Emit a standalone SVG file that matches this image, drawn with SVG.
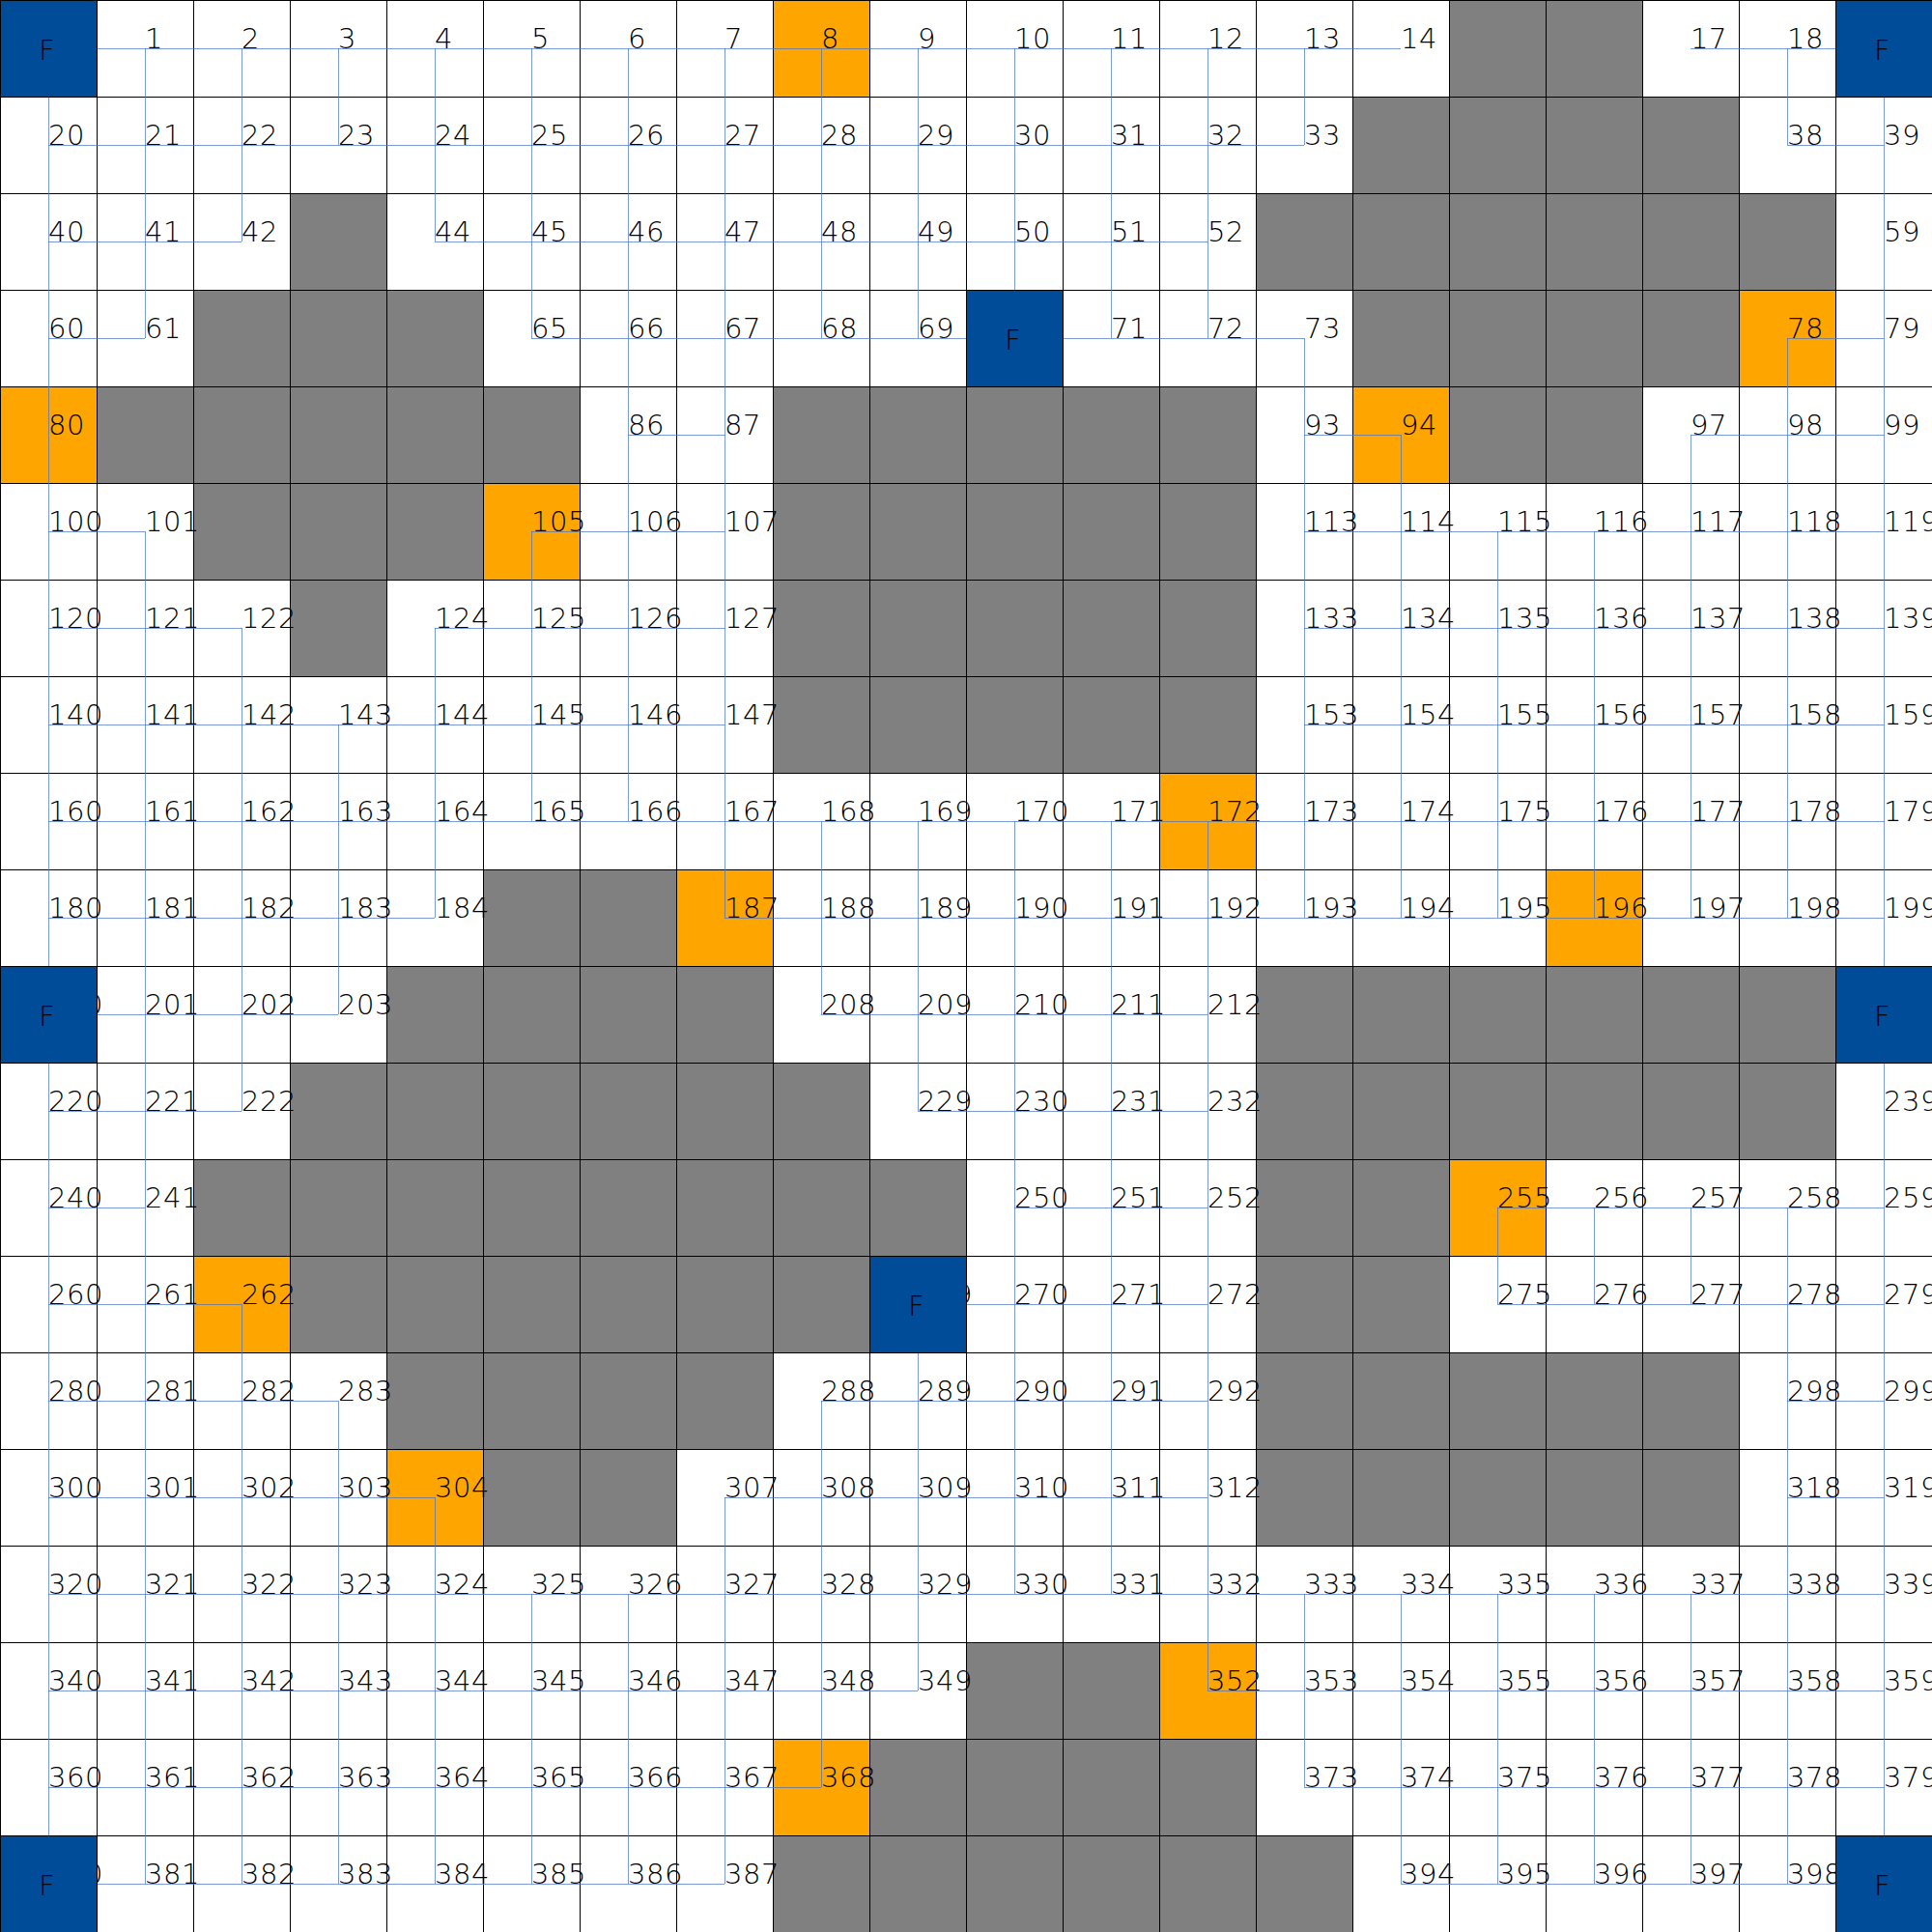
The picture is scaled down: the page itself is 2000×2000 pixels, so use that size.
<svg xmlns="http://www.w3.org/2000/svg" xmlns:xlink="http://www.w3.org/1999/xlink" width="2000" height="2000" viewBox="0 0 2000 2000">
<style>
.w{fill:#ffffff}.g{fill:#808080}.o{fill:#ffa500}.f{fill:#004c99}
use{stroke:#000;stroke-width:1;shape-rendering:crispEdges}
text{font-family:"DejaVu Sans ExtraLight","DejaVu Sans","Liberation Sans",sans-serif;font-weight:200;font-size:29px;fill:#000;letter-spacing:0.5px}
.e line{stroke:#4472c4;stroke-opacity:0.7;stroke-width:1;shape-rendering:crispEdges}
</style>
<defs><rect id="c" width="100" height="100"/></defs>
<rect width="2000" height="2000" fill="#fff"/>
<g id="nodes">
<g id="n18" transform="translate(1800 0)"><use href="#c" class="w"/><text x="50" y="50">18</text></g>
<g id="n17" transform="translate(1700 0)"><use href="#c" class="w"/><text x="50" y="50">17</text></g>
<g id="n16" transform="translate(1600 0)"><use href="#c" class="g"/></g>
<g id="n15" transform="translate(1500 0)"><use href="#c" class="g"/></g>
<g id="n14" transform="translate(1400 0)"><use href="#c" class="w"/><text x="50" y="50">14</text></g>
<g id="n13" transform="translate(1300 0)"><use href="#c" class="w"/><text x="50" y="50">13</text></g>
<g id="n12" transform="translate(1200 0)"><use href="#c" class="w"/><text x="50" y="50">12</text></g>
<g id="n11" transform="translate(1100 0)"><use href="#c" class="w"/><text x="50" y="50">11</text></g>
<g id="n10" transform="translate(1000 0)"><use href="#c" class="w"/><text x="50" y="50">10</text></g>
<g id="n9" transform="translate(900 0)"><use href="#c" class="w"/><text x="50" y="50">9</text></g>
<g id="n8" transform="translate(800 0)"><use href="#c" class="o"/><text x="50" y="50">8</text></g>
<g id="n7" transform="translate(700 0)"><use href="#c" class="w"/><text x="50" y="50">7</text></g>
<g id="n6" transform="translate(600 0)"><use href="#c" class="w"/><text x="50" y="50">6</text></g>
<g id="n5" transform="translate(500 0)"><use href="#c" class="w"/><text x="50" y="50">5</text></g>
<g id="n4" transform="translate(400 0)"><use href="#c" class="w"/><text x="50" y="50">4</text></g>
<g id="n3" transform="translate(300 0)"><use href="#c" class="w"/><text x="50" y="50">3</text></g>
<g id="n2" transform="translate(200 0)"><use href="#c" class="w"/><text x="50" y="50">2</text></g>
<g id="n1" transform="translate(100 0)"><use href="#c" class="w"/><text x="50" y="50">1</text></g>

<g id="n39" transform="translate(1900 100)"><use href="#c" class="w"/><text x="50" y="50">39</text></g>
<g id="n38" transform="translate(1800 100)"><use href="#c" class="w"/><text x="50" y="50">38</text></g>
<g id="n37" transform="translate(1700 100)"><use href="#c" class="g"/></g>
<g id="n36" transform="translate(1600 100)"><use href="#c" class="g"/></g>
<g id="n35" transform="translate(1500 100)"><use href="#c" class="g"/></g>
<g id="n34" transform="translate(1400 100)"><use href="#c" class="g"/></g>
<g id="n33" transform="translate(1300 100)"><use href="#c" class="w"/><text x="50" y="50">33</text></g>
<g id="n32" transform="translate(1200 100)"><use href="#c" class="w"/><text x="50" y="50">32</text></g>
<g id="n31" transform="translate(1100 100)"><use href="#c" class="w"/><text x="50" y="50">31</text></g>
<g id="n30" transform="translate(1000 100)"><use href="#c" class="w"/><text x="50" y="50">30</text></g>
<g id="n29" transform="translate(900 100)"><use href="#c" class="w"/><text x="50" y="50">29</text></g>
<g id="n28" transform="translate(800 100)"><use href="#c" class="w"/><text x="50" y="50">28</text></g>
<g id="n27" transform="translate(700 100)"><use href="#c" class="w"/><text x="50" y="50">27</text></g>
<g id="n26" transform="translate(600 100)"><use href="#c" class="w"/><text x="50" y="50">26</text></g>
<g id="n25" transform="translate(500 100)"><use href="#c" class="w"/><text x="50" y="50">25</text></g>
<g id="n24" transform="translate(400 100)"><use href="#c" class="w"/><text x="50" y="50">24</text></g>
<g id="n23" transform="translate(300 100)"><use href="#c" class="w"/><text x="50" y="50">23</text></g>
<g id="n22" transform="translate(200 100)"><use href="#c" class="w"/><text x="50" y="50">22</text></g>
<g id="n21" transform="translate(100 100)"><use href="#c" class="w"/><text x="50" y="50">21</text></g>
<g id="n20" transform="translate(0 100)"><use href="#c" class="w"/><text x="50" y="50">20</text></g>

<g id="n59" transform="translate(1900 200)"><use href="#c" class="w"/><text x="50" y="50">59</text></g>
<g id="n58" transform="translate(1800 200)"><use href="#c" class="g"/></g>
<g id="n57" transform="translate(1700 200)"><use href="#c" class="g"/></g>
<g id="n56" transform="translate(1600 200)"><use href="#c" class="g"/></g>
<g id="n55" transform="translate(1500 200)"><use href="#c" class="g"/></g>
<g id="n54" transform="translate(1400 200)"><use href="#c" class="g"/></g>
<g id="n53" transform="translate(1300 200)"><use href="#c" class="g"/></g>
<g id="n52" transform="translate(1200 200)"><use href="#c" class="w"/><text x="50" y="50">52</text></g>
<g id="n51" transform="translate(1100 200)"><use href="#c" class="w"/><text x="50" y="50">51</text></g>
<g id="n50" transform="translate(1000 200)"><use href="#c" class="w"/><text x="50" y="50">50</text></g>
<g id="n49" transform="translate(900 200)"><use href="#c" class="w"/><text x="50" y="50">49</text></g>
<g id="n48" transform="translate(800 200)"><use href="#c" class="w"/><text x="50" y="50">48</text></g>
<g id="n47" transform="translate(700 200)"><use href="#c" class="w"/><text x="50" y="50">47</text></g>
<g id="n46" transform="translate(600 200)"><use href="#c" class="w"/><text x="50" y="50">46</text></g>
<g id="n45" transform="translate(500 200)"><use href="#c" class="w"/><text x="50" y="50">45</text></g>
<g id="n44" transform="translate(400 200)"><use href="#c" class="w"/><text x="50" y="50">44</text></g>
<g id="n43" transform="translate(300 200)"><use href="#c" class="g"/></g>
<g id="n42" transform="translate(200 200)"><use href="#c" class="w"/><text x="50" y="50">42</text></g>
<g id="n41" transform="translate(100 200)"><use href="#c" class="w"/><text x="50" y="50">41</text></g>
<g id="n40" transform="translate(0 200)"><use href="#c" class="w"/><text x="50" y="50">40</text></g>

<g id="n79" transform="translate(1900 300)"><use href="#c" class="w"/><text x="50" y="50">79</text></g>
<g id="n78" transform="translate(1800 300)"><use href="#c" class="o"/><text x="50" y="50">78</text></g>
<g id="n77" transform="translate(1700 300)"><use href="#c" class="g"/></g>
<g id="n76" transform="translate(1600 300)"><use href="#c" class="g"/></g>
<g id="n75" transform="translate(1500 300)"><use href="#c" class="g"/></g>
<g id="n74" transform="translate(1400 300)"><use href="#c" class="g"/></g>
<g id="n73" transform="translate(1300 300)"><use href="#c" class="w"/><text x="50" y="50">73</text></g>
<g id="n72" transform="translate(1200 300)"><use href="#c" class="w"/><text x="50" y="50">72</text></g>
<g id="n71" transform="translate(1100 300)"><use href="#c" class="w"/><text x="50" y="50">71</text></g>
<g id="n69" transform="translate(900 300)"><use href="#c" class="w"/><text x="50" y="50">69</text></g>
<g id="n68" transform="translate(800 300)"><use href="#c" class="w"/><text x="50" y="50">68</text></g>
<g id="n67" transform="translate(700 300)"><use href="#c" class="w"/><text x="50" y="50">67</text></g>
<g id="n66" transform="translate(600 300)"><use href="#c" class="w"/><text x="50" y="50">66</text></g>
<g id="n65" transform="translate(500 300)"><use href="#c" class="w"/><text x="50" y="50">65</text></g>
<g id="n64" transform="translate(400 300)"><use href="#c" class="g"/></g>
<g id="n63" transform="translate(300 300)"><use href="#c" class="g"/></g>
<g id="n62" transform="translate(200 300)"><use href="#c" class="g"/></g>
<g id="n61" transform="translate(100 300)"><use href="#c" class="w"/><text x="50" y="50">61</text></g>
<g id="n60" transform="translate(0 300)"><use href="#c" class="w"/><text x="50" y="50">60</text></g>

<g id="n99" transform="translate(1900 400)"><use href="#c" class="w"/><text x="50" y="50">99</text></g>
<g id="n98" transform="translate(1800 400)"><use href="#c" class="w"/><text x="50" y="50">98</text></g>
<g id="n97" transform="translate(1700 400)"><use href="#c" class="w"/><text x="50" y="50">97</text></g>
<g id="n96" transform="translate(1600 400)"><use href="#c" class="g"/></g>
<g id="n95" transform="translate(1500 400)"><use href="#c" class="g"/></g>
<g id="n94" transform="translate(1400 400)"><use href="#c" class="o"/><text x="50" y="50">94</text></g>
<g id="n93" transform="translate(1300 400)"><use href="#c" class="w"/><text x="50" y="50">93</text></g>
<g id="n92" transform="translate(1200 400)"><use href="#c" class="g"/></g>
<g id="n91" transform="translate(1100 400)"><use href="#c" class="g"/></g>
<g id="n90" transform="translate(1000 400)"><use href="#c" class="g"/></g>
<g id="n89" transform="translate(900 400)"><use href="#c" class="g"/></g>
<g id="n88" transform="translate(800 400)"><use href="#c" class="g"/></g>
<g id="n87" transform="translate(700 400)"><use href="#c" class="w"/><text x="50" y="50">87</text></g>
<g id="n86" transform="translate(600 400)"><use href="#c" class="w"/><text x="50" y="50">86</text></g>
<g id="n85" transform="translate(500 400)"><use href="#c" class="g"/></g>
<g id="n84" transform="translate(400 400)"><use href="#c" class="g"/></g>
<g id="n83" transform="translate(300 400)"><use href="#c" class="g"/></g>
<g id="n82" transform="translate(200 400)"><use href="#c" class="g"/></g>
<g id="n81" transform="translate(100 400)"><use href="#c" class="g"/></g>
<g id="n80" transform="translate(0 400)"><use href="#c" class="o"/><text x="50" y="50">80</text></g>

<g id="n119" transform="translate(1900 500)"><use href="#c" class="w"/><text x="50" y="50">119</text></g>
<g id="n118" transform="translate(1800 500)"><use href="#c" class="w"/><text x="50" y="50">118</text></g>
<g id="n117" transform="translate(1700 500)"><use href="#c" class="w"/><text x="50" y="50">117</text></g>
<g id="n116" transform="translate(1600 500)"><use href="#c" class="w"/><text x="50" y="50">116</text></g>
<g id="n115" transform="translate(1500 500)"><use href="#c" class="w"/><text x="50" y="50">115</text></g>
<g id="n114" transform="translate(1400 500)"><use href="#c" class="w"/><text x="50" y="50">114</text></g>
<g id="n113" transform="translate(1300 500)"><use href="#c" class="w"/><text x="50" y="50">113</text></g>
<g id="n112" transform="translate(1200 500)"><use href="#c" class="g"/></g>
<g id="n111" transform="translate(1100 500)"><use href="#c" class="g"/></g>
<g id="n110" transform="translate(1000 500)"><use href="#c" class="g"/></g>
<g id="n109" transform="translate(900 500)"><use href="#c" class="g"/></g>
<g id="n108" transform="translate(800 500)"><use href="#c" class="g"/></g>
<g id="n107" transform="translate(700 500)"><use href="#c" class="w"/><text x="50" y="50">107</text></g>
<g id="n106" transform="translate(600 500)"><use href="#c" class="w"/><text x="50" y="50">106</text></g>
<g id="n105" transform="translate(500 500)"><use href="#c" class="o"/><text x="50" y="50">105</text></g>
<g id="n104" transform="translate(400 500)"><use href="#c" class="g"/></g>
<g id="n103" transform="translate(300 500)"><use href="#c" class="g"/></g>
<g id="n102" transform="translate(200 500)"><use href="#c" class="g"/></g>
<g id="n101" transform="translate(100 500)"><use href="#c" class="w"/><text x="50" y="50">101</text></g>
<g id="n100" transform="translate(0 500)"><use href="#c" class="w"/><text x="50" y="50">100</text></g>

<g id="n139" transform="translate(1900 600)"><use href="#c" class="w"/><text x="50" y="50">139</text></g>
<g id="n138" transform="translate(1800 600)"><use href="#c" class="w"/><text x="50" y="50">138</text></g>
<g id="n137" transform="translate(1700 600)"><use href="#c" class="w"/><text x="50" y="50">137</text></g>
<g id="n136" transform="translate(1600 600)"><use href="#c" class="w"/><text x="50" y="50">136</text></g>
<g id="n135" transform="translate(1500 600)"><use href="#c" class="w"/><text x="50" y="50">135</text></g>
<g id="n134" transform="translate(1400 600)"><use href="#c" class="w"/><text x="50" y="50">134</text></g>
<g id="n133" transform="translate(1300 600)"><use href="#c" class="w"/><text x="50" y="50">133</text></g>
<g id="n132" transform="translate(1200 600)"><use href="#c" class="g"/></g>
<g id="n131" transform="translate(1100 600)"><use href="#c" class="g"/></g>
<g id="n130" transform="translate(1000 600)"><use href="#c" class="g"/></g>
<g id="n129" transform="translate(900 600)"><use href="#c" class="g"/></g>
<g id="n128" transform="translate(800 600)"><use href="#c" class="g"/></g>
<g id="n127" transform="translate(700 600)"><use href="#c" class="w"/><text x="50" y="50">127</text></g>
<g id="n126" transform="translate(600 600)"><use href="#c" class="w"/><text x="50" y="50">126</text></g>
<g id="n125" transform="translate(500 600)"><use href="#c" class="w"/><text x="50" y="50">125</text></g>
<g id="n124" transform="translate(400 600)"><use href="#c" class="w"/><text x="50" y="50">124</text></g>
<g id="n123" transform="translate(300 600)"><use href="#c" class="g"/></g>
<g id="n122" transform="translate(200 600)"><use href="#c" class="w"/><text x="50" y="50">122</text></g>
<g id="n121" transform="translate(100 600)"><use href="#c" class="w"/><text x="50" y="50">121</text></g>
<g id="n120" transform="translate(0 600)"><use href="#c" class="w"/><text x="50" y="50">120</text></g>

<g id="n159" transform="translate(1900 700)"><use href="#c" class="w"/><text x="50" y="50">159</text></g>
<g id="n158" transform="translate(1800 700)"><use href="#c" class="w"/><text x="50" y="50">158</text></g>
<g id="n157" transform="translate(1700 700)"><use href="#c" class="w"/><text x="50" y="50">157</text></g>
<g id="n156" transform="translate(1600 700)"><use href="#c" class="w"/><text x="50" y="50">156</text></g>
<g id="n155" transform="translate(1500 700)"><use href="#c" class="w"/><text x="50" y="50">155</text></g>
<g id="n154" transform="translate(1400 700)"><use href="#c" class="w"/><text x="50" y="50">154</text></g>
<g id="n153" transform="translate(1300 700)"><use href="#c" class="w"/><text x="50" y="50">153</text></g>
<g id="n152" transform="translate(1200 700)"><use href="#c" class="g"/></g>
<g id="n151" transform="translate(1100 700)"><use href="#c" class="g"/></g>
<g id="n150" transform="translate(1000 700)"><use href="#c" class="g"/></g>
<g id="n149" transform="translate(900 700)"><use href="#c" class="g"/></g>
<g id="n148" transform="translate(800 700)"><use href="#c" class="g"/></g>
<g id="n147" transform="translate(700 700)"><use href="#c" class="w"/><text x="50" y="50">147</text></g>
<g id="n146" transform="translate(600 700)"><use href="#c" class="w"/><text x="50" y="50">146</text></g>
<g id="n145" transform="translate(500 700)"><use href="#c" class="w"/><text x="50" y="50">145</text></g>
<g id="n144" transform="translate(400 700)"><use href="#c" class="w"/><text x="50" y="50">144</text></g>
<g id="n143" transform="translate(300 700)"><use href="#c" class="w"/><text x="50" y="50">143</text></g>
<g id="n142" transform="translate(200 700)"><use href="#c" class="w"/><text x="50" y="50">142</text></g>
<g id="n141" transform="translate(100 700)"><use href="#c" class="w"/><text x="50" y="50">141</text></g>
<g id="n140" transform="translate(0 700)"><use href="#c" class="w"/><text x="50" y="50">140</text></g>

<g id="n179" transform="translate(1900 800)"><use href="#c" class="w"/><text x="50" y="50">179</text></g>
<g id="n178" transform="translate(1800 800)"><use href="#c" class="w"/><text x="50" y="50">178</text></g>
<g id="n177" transform="translate(1700 800)"><use href="#c" class="w"/><text x="50" y="50">177</text></g>
<g id="n176" transform="translate(1600 800)"><use href="#c" class="w"/><text x="50" y="50">176</text></g>
<g id="n175" transform="translate(1500 800)"><use href="#c" class="w"/><text x="50" y="50">175</text></g>
<g id="n174" transform="translate(1400 800)"><use href="#c" class="w"/><text x="50" y="50">174</text></g>
<g id="n173" transform="translate(1300 800)"><use href="#c" class="w"/><text x="50" y="50">173</text></g>
<g id="n172" transform="translate(1200 800)"><use href="#c" class="o"/><text x="50" y="50">172</text></g>
<g id="n171" transform="translate(1100 800)"><use href="#c" class="w"/><text x="50" y="50">171</text></g>
<g id="n170" transform="translate(1000 800)"><use href="#c" class="w"/><text x="50" y="50">170</text></g>
<g id="n169" transform="translate(900 800)"><use href="#c" class="w"/><text x="50" y="50">169</text></g>
<g id="n168" transform="translate(800 800)"><use href="#c" class="w"/><text x="50" y="50">168</text></g>
<g id="n167" transform="translate(700 800)"><use href="#c" class="w"/><text x="50" y="50">167</text></g>
<g id="n166" transform="translate(600 800)"><use href="#c" class="w"/><text x="50" y="50">166</text></g>
<g id="n165" transform="translate(500 800)"><use href="#c" class="w"/><text x="50" y="50">165</text></g>
<g id="n164" transform="translate(400 800)"><use href="#c" class="w"/><text x="50" y="50">164</text></g>
<g id="n163" transform="translate(300 800)"><use href="#c" class="w"/><text x="50" y="50">163</text></g>
<g id="n162" transform="translate(200 800)"><use href="#c" class="w"/><text x="50" y="50">162</text></g>
<g id="n161" transform="translate(100 800)"><use href="#c" class="w"/><text x="50" y="50">161</text></g>
<g id="n160" transform="translate(0 800)"><use href="#c" class="w"/><text x="50" y="50">160</text></g>

<g id="n199" transform="translate(1900 900)"><use href="#c" class="w"/><text x="50" y="50">199</text></g>
<g id="n198" transform="translate(1800 900)"><use href="#c" class="w"/><text x="50" y="50">198</text></g>
<g id="n197" transform="translate(1700 900)"><use href="#c" class="w"/><text x="50" y="50">197</text></g>
<g id="n196" transform="translate(1600 900)"><use href="#c" class="o"/><text x="50" y="50">196</text></g>
<g id="n195" transform="translate(1500 900)"><use href="#c" class="w"/><text x="50" y="50">195</text></g>
<g id="n194" transform="translate(1400 900)"><use href="#c" class="w"/><text x="50" y="50">194</text></g>
<g id="n193" transform="translate(1300 900)"><use href="#c" class="w"/><text x="50" y="50">193</text></g>
<g id="n192" transform="translate(1200 900)"><use href="#c" class="w"/><text x="50" y="50">192</text></g>
<g id="n191" transform="translate(1100 900)"><use href="#c" class="w"/><text x="50" y="50">191</text></g>
<g id="n190" transform="translate(1000 900)"><use href="#c" class="w"/><text x="50" y="50">190</text></g>
<g id="n189" transform="translate(900 900)"><use href="#c" class="w"/><text x="50" y="50">189</text></g>
<g id="n188" transform="translate(800 900)"><use href="#c" class="w"/><text x="50" y="50">188</text></g>
<g id="n187" transform="translate(700 900)"><use href="#c" class="o"/><text x="50" y="50">187</text></g>
<g id="n186" transform="translate(600 900)"><use href="#c" class="g"/></g>
<g id="n185" transform="translate(500 900)"><use href="#c" class="g"/></g>
<g id="n184" transform="translate(400 900)"><use href="#c" class="w"/><text x="50" y="50">184</text></g>
<g id="n183" transform="translate(300 900)"><use href="#c" class="w"/><text x="50" y="50">183</text></g>
<g id="n182" transform="translate(200 900)"><use href="#c" class="w"/><text x="50" y="50">182</text></g>
<g id="n181" transform="translate(100 900)"><use href="#c" class="w"/><text x="50" y="50">181</text></g>
<g id="n180" transform="translate(0 900)"><use href="#c" class="w"/><text x="50" y="50">180</text></g>

<g id="n218" transform="translate(1800 1000)"><use href="#c" class="g"/></g>
<g id="n217" transform="translate(1700 1000)"><use href="#c" class="g"/></g>
<g id="n216" transform="translate(1600 1000)"><use href="#c" class="g"/></g>
<g id="n215" transform="translate(1500 1000)"><use href="#c" class="g"/></g>
<g id="n214" transform="translate(1400 1000)"><use href="#c" class="g"/></g>
<g id="n213" transform="translate(1300 1000)"><use href="#c" class="g"/></g>
<g id="n212" transform="translate(1200 1000)"><use href="#c" class="w"/><text x="50" y="50">212</text></g>
<g id="n211" transform="translate(1100 1000)"><use href="#c" class="w"/><text x="50" y="50">211</text></g>
<g id="n210" transform="translate(1000 1000)"><use href="#c" class="w"/><text x="50" y="50">210</text></g>
<g id="n209" transform="translate(900 1000)"><use href="#c" class="w"/><text x="50" y="50">209</text></g>
<g id="n208" transform="translate(800 1000)"><use href="#c" class="w"/><text x="50" y="50">208</text></g>
<g id="n207" transform="translate(700 1000)"><use href="#c" class="g"/></g>
<g id="n206" transform="translate(600 1000)"><use href="#c" class="g"/></g>
<g id="n205" transform="translate(500 1000)"><use href="#c" class="g"/></g>
<g id="n204" transform="translate(400 1000)"><use href="#c" class="g"/></g>
<g id="n203" transform="translate(300 1000)"><use href="#c" class="w"/><text x="50" y="50">203</text></g>
<g id="n202" transform="translate(200 1000)"><use href="#c" class="w"/><text x="50" y="50">202</text></g>
<g id="n201" transform="translate(100 1000)"><use href="#c" class="w"/><text x="50" y="50">201</text></g>

<g id="n239" transform="translate(1900 1100)"><use href="#c" class="w"/><text x="50" y="50">239</text></g>
<g id="n238" transform="translate(1800 1100)"><use href="#c" class="g"/></g>
<g id="n237" transform="translate(1700 1100)"><use href="#c" class="g"/></g>
<g id="n236" transform="translate(1600 1100)"><use href="#c" class="g"/></g>
<g id="n235" transform="translate(1500 1100)"><use href="#c" class="g"/></g>
<g id="n234" transform="translate(1400 1100)"><use href="#c" class="g"/></g>
<g id="n233" transform="translate(1300 1100)"><use href="#c" class="g"/></g>
<g id="n232" transform="translate(1200 1100)"><use href="#c" class="w"/><text x="50" y="50">232</text></g>
<g id="n231" transform="translate(1100 1100)"><use href="#c" class="w"/><text x="50" y="50">231</text></g>
<g id="n230" transform="translate(1000 1100)"><use href="#c" class="w"/><text x="50" y="50">230</text></g>
<g id="n229" transform="translate(900 1100)"><use href="#c" class="w"/><text x="50" y="50">229</text></g>
<g id="n228" transform="translate(800 1100)"><use href="#c" class="g"/></g>
<g id="n227" transform="translate(700 1100)"><use href="#c" class="g"/></g>
<g id="n226" transform="translate(600 1100)"><use href="#c" class="g"/></g>
<g id="n225" transform="translate(500 1100)"><use href="#c" class="g"/></g>
<g id="n224" transform="translate(400 1100)"><use href="#c" class="g"/></g>
<g id="n223" transform="translate(300 1100)"><use href="#c" class="g"/></g>
<g id="n222" transform="translate(200 1100)"><use href="#c" class="w"/><text x="50" y="50">222</text></g>
<g id="n221" transform="translate(100 1100)"><use href="#c" class="w"/><text x="50" y="50">221</text></g>
<g id="n220" transform="translate(0 1100)"><use href="#c" class="w"/><text x="50" y="50">220</text></g>

<g id="n259" transform="translate(1900 1200)"><use href="#c" class="w"/><text x="50" y="50">259</text></g>
<g id="n258" transform="translate(1800 1200)"><use href="#c" class="w"/><text x="50" y="50">258</text></g>
<g id="n257" transform="translate(1700 1200)"><use href="#c" class="w"/><text x="50" y="50">257</text></g>
<g id="n256" transform="translate(1600 1200)"><use href="#c" class="w"/><text x="50" y="50">256</text></g>
<g id="n255" transform="translate(1500 1200)"><use href="#c" class="o"/><text x="50" y="50">255</text></g>
<g id="n254" transform="translate(1400 1200)"><use href="#c" class="g"/></g>
<g id="n253" transform="translate(1300 1200)"><use href="#c" class="g"/></g>
<g id="n252" transform="translate(1200 1200)"><use href="#c" class="w"/><text x="50" y="50">252</text></g>
<g id="n251" transform="translate(1100 1200)"><use href="#c" class="w"/><text x="50" y="50">251</text></g>
<g id="n250" transform="translate(1000 1200)"><use href="#c" class="w"/><text x="50" y="50">250</text></g>
<g id="n249" transform="translate(900 1200)"><use href="#c" class="g"/></g>
<g id="n248" transform="translate(800 1200)"><use href="#c" class="g"/></g>
<g id="n247" transform="translate(700 1200)"><use href="#c" class="g"/></g>
<g id="n246" transform="translate(600 1200)"><use href="#c" class="g"/></g>
<g id="n245" transform="translate(500 1200)"><use href="#c" class="g"/></g>
<g id="n244" transform="translate(400 1200)"><use href="#c" class="g"/></g>
<g id="n243" transform="translate(300 1200)"><use href="#c" class="g"/></g>
<g id="n242" transform="translate(200 1200)"><use href="#c" class="g"/></g>
<g id="n241" transform="translate(100 1200)"><use href="#c" class="w"/><text x="50" y="50">241</text></g>
<g id="n240" transform="translate(0 1200)"><use href="#c" class="w"/><text x="50" y="50">240</text></g>

<g id="n279" transform="translate(1900 1300)"><use href="#c" class="w"/><text x="50" y="50">279</text></g>
<g id="n278" transform="translate(1800 1300)"><use href="#c" class="w"/><text x="50" y="50">278</text></g>
<g id="n277" transform="translate(1700 1300)"><use href="#c" class="w"/><text x="50" y="50">277</text></g>
<g id="n276" transform="translate(1600 1300)"><use href="#c" class="w"/><text x="50" y="50">276</text></g>
<g id="n275" transform="translate(1500 1300)"><use href="#c" class="w"/><text x="50" y="50">275</text></g>
<g id="n274" transform="translate(1400 1300)"><use href="#c" class="g"/></g>
<g id="n273" transform="translate(1300 1300)"><use href="#c" class="g"/></g>
<g id="n272" transform="translate(1200 1300)"><use href="#c" class="w"/><text x="50" y="50">272</text></g>
<g id="n271" transform="translate(1100 1300)"><use href="#c" class="w"/><text x="50" y="50">271</text></g>
<g id="n270" transform="translate(1000 1300)"><use href="#c" class="w"/><text x="50" y="50">270</text></g>
<g id="n268" transform="translate(800 1300)"><use href="#c" class="g"/></g>
<g id="n267" transform="translate(700 1300)"><use href="#c" class="g"/></g>
<g id="n266" transform="translate(600 1300)"><use href="#c" class="g"/></g>
<g id="n265" transform="translate(500 1300)"><use href="#c" class="g"/></g>
<g id="n264" transform="translate(400 1300)"><use href="#c" class="g"/></g>
<g id="n263" transform="translate(300 1300)"><use href="#c" class="g"/></g>
<g id="n262" transform="translate(200 1300)"><use href="#c" class="o"/><text x="50" y="50">262</text></g>
<g id="n261" transform="translate(100 1300)"><use href="#c" class="w"/><text x="50" y="50">261</text></g>
<g id="n260" transform="translate(0 1300)"><use href="#c" class="w"/><text x="50" y="50">260</text></g>

<g id="n299" transform="translate(1900 1400)"><use href="#c" class="w"/><text x="50" y="50">299</text></g>
<g id="n298" transform="translate(1800 1400)"><use href="#c" class="w"/><text x="50" y="50">298</text></g>
<g id="n297" transform="translate(1700 1400)"><use href="#c" class="g"/></g>
<g id="n296" transform="translate(1600 1400)"><use href="#c" class="g"/></g>
<g id="n295" transform="translate(1500 1400)"><use href="#c" class="g"/></g>
<g id="n294" transform="translate(1400 1400)"><use href="#c" class="g"/></g>
<g id="n293" transform="translate(1300 1400)"><use href="#c" class="g"/></g>
<g id="n292" transform="translate(1200 1400)"><use href="#c" class="w"/><text x="50" y="50">292</text></g>
<g id="n291" transform="translate(1100 1400)"><use href="#c" class="w"/><text x="50" y="50">291</text></g>
<g id="n290" transform="translate(1000 1400)"><use href="#c" class="w"/><text x="50" y="50">290</text></g>
<g id="n289" transform="translate(900 1400)"><use href="#c" class="w"/><text x="50" y="50">289</text></g>
<g id="n288" transform="translate(800 1400)"><use href="#c" class="w"/><text x="50" y="50">288</text></g>
<g id="n287" transform="translate(700 1400)"><use href="#c" class="g"/></g>
<g id="n286" transform="translate(600 1400)"><use href="#c" class="g"/></g>
<g id="n285" transform="translate(500 1400)"><use href="#c" class="g"/></g>
<g id="n284" transform="translate(400 1400)"><use href="#c" class="g"/></g>
<g id="n283" transform="translate(300 1400)"><use href="#c" class="w"/><text x="50" y="50">283</text></g>
<g id="n282" transform="translate(200 1400)"><use href="#c" class="w"/><text x="50" y="50">282</text></g>
<g id="n281" transform="translate(100 1400)"><use href="#c" class="w"/><text x="50" y="50">281</text></g>
<g id="n280" transform="translate(0 1400)"><use href="#c" class="w"/><text x="50" y="50">280</text></g>

<g id="n319" transform="translate(1900 1500)"><use href="#c" class="w"/><text x="50" y="50">319</text></g>
<g id="n318" transform="translate(1800 1500)"><use href="#c" class="w"/><text x="50" y="50">318</text></g>
<g id="n317" transform="translate(1700 1500)"><use href="#c" class="g"/></g>
<g id="n316" transform="translate(1600 1500)"><use href="#c" class="g"/></g>
<g id="n315" transform="translate(1500 1500)"><use href="#c" class="g"/></g>
<g id="n314" transform="translate(1400 1500)"><use href="#c" class="g"/></g>
<g id="n313" transform="translate(1300 1500)"><use href="#c" class="g"/></g>
<g id="n312" transform="translate(1200 1500)"><use href="#c" class="w"/><text x="50" y="50">312</text></g>
<g id="n311" transform="translate(1100 1500)"><use href="#c" class="w"/><text x="50" y="50">311</text></g>
<g id="n310" transform="translate(1000 1500)"><use href="#c" class="w"/><text x="50" y="50">310</text></g>
<g id="n309" transform="translate(900 1500)"><use href="#c" class="w"/><text x="50" y="50">309</text></g>
<g id="n308" transform="translate(800 1500)"><use href="#c" class="w"/><text x="50" y="50">308</text></g>
<g id="n307" transform="translate(700 1500)"><use href="#c" class="w"/><text x="50" y="50">307</text></g>
<g id="n306" transform="translate(600 1500)"><use href="#c" class="g"/></g>
<g id="n305" transform="translate(500 1500)"><use href="#c" class="g"/></g>
<g id="n304" transform="translate(400 1500)"><use href="#c" class="o"/><text x="50" y="50">304</text></g>
<g id="n303" transform="translate(300 1500)"><use href="#c" class="w"/><text x="50" y="50">303</text></g>
<g id="n302" transform="translate(200 1500)"><use href="#c" class="w"/><text x="50" y="50">302</text></g>
<g id="n301" transform="translate(100 1500)"><use href="#c" class="w"/><text x="50" y="50">301</text></g>
<g id="n300" transform="translate(0 1500)"><use href="#c" class="w"/><text x="50" y="50">300</text></g>

<g id="n339" transform="translate(1900 1600)"><use href="#c" class="w"/><text x="50" y="50">339</text></g>
<g id="n338" transform="translate(1800 1600)"><use href="#c" class="w"/><text x="50" y="50">338</text></g>
<g id="n337" transform="translate(1700 1600)"><use href="#c" class="w"/><text x="50" y="50">337</text></g>
<g id="n336" transform="translate(1600 1600)"><use href="#c" class="w"/><text x="50" y="50">336</text></g>
<g id="n335" transform="translate(1500 1600)"><use href="#c" class="w"/><text x="50" y="50">335</text></g>
<g id="n334" transform="translate(1400 1600)"><use href="#c" class="w"/><text x="50" y="50">334</text></g>
<g id="n333" transform="translate(1300 1600)"><use href="#c" class="w"/><text x="50" y="50">333</text></g>
<g id="n332" transform="translate(1200 1600)"><use href="#c" class="w"/><text x="50" y="50">332</text></g>
<g id="n331" transform="translate(1100 1600)"><use href="#c" class="w"/><text x="50" y="50">331</text></g>
<g id="n330" transform="translate(1000 1600)"><use href="#c" class="w"/><text x="50" y="50">330</text></g>
<g id="n329" transform="translate(900 1600)"><use href="#c" class="w"/><text x="50" y="50">329</text></g>
<g id="n328" transform="translate(800 1600)"><use href="#c" class="w"/><text x="50" y="50">328</text></g>
<g id="n327" transform="translate(700 1600)"><use href="#c" class="w"/><text x="50" y="50">327</text></g>
<g id="n326" transform="translate(600 1600)"><use href="#c" class="w"/><text x="50" y="50">326</text></g>
<g id="n325" transform="translate(500 1600)"><use href="#c" class="w"/><text x="50" y="50">325</text></g>
<g id="n324" transform="translate(400 1600)"><use href="#c" class="w"/><text x="50" y="50">324</text></g>
<g id="n323" transform="translate(300 1600)"><use href="#c" class="w"/><text x="50" y="50">323</text></g>
<g id="n322" transform="translate(200 1600)"><use href="#c" class="w"/><text x="50" y="50">322</text></g>
<g id="n321" transform="translate(100 1600)"><use href="#c" class="w"/><text x="50" y="50">321</text></g>
<g id="n320" transform="translate(0 1600)"><use href="#c" class="w"/><text x="50" y="50">320</text></g>

<g id="n359" transform="translate(1900 1700)"><use href="#c" class="w"/><text x="50" y="50">359</text></g>
<g id="n358" transform="translate(1800 1700)"><use href="#c" class="w"/><text x="50" y="50">358</text></g>
<g id="n357" transform="translate(1700 1700)"><use href="#c" class="w"/><text x="50" y="50">357</text></g>
<g id="n356" transform="translate(1600 1700)"><use href="#c" class="w"/><text x="50" y="50">356</text></g>
<g id="n355" transform="translate(1500 1700)"><use href="#c" class="w"/><text x="50" y="50">355</text></g>
<g id="n354" transform="translate(1400 1700)"><use href="#c" class="w"/><text x="50" y="50">354</text></g>
<g id="n353" transform="translate(1300 1700)"><use href="#c" class="w"/><text x="50" y="50">353</text></g>
<g id="n352" transform="translate(1200 1700)"><use href="#c" class="o"/><text x="50" y="50">352</text></g>
<g id="n351" transform="translate(1100 1700)"><use href="#c" class="g"/></g>
<g id="n350" transform="translate(1000 1700)"><use href="#c" class="g"/></g>
<g id="n349" transform="translate(900 1700)"><use href="#c" class="w"/><text x="50" y="50">349</text></g>
<g id="n348" transform="translate(800 1700)"><use href="#c" class="w"/><text x="50" y="50">348</text></g>
<g id="n347" transform="translate(700 1700)"><use href="#c" class="w"/><text x="50" y="50">347</text></g>
<g id="n346" transform="translate(600 1700)"><use href="#c" class="w"/><text x="50" y="50">346</text></g>
<g id="n345" transform="translate(500 1700)"><use href="#c" class="w"/><text x="50" y="50">345</text></g>
<g id="n344" transform="translate(400 1700)"><use href="#c" class="w"/><text x="50" y="50">344</text></g>
<g id="n343" transform="translate(300 1700)"><use href="#c" class="w"/><text x="50" y="50">343</text></g>
<g id="n342" transform="translate(200 1700)"><use href="#c" class="w"/><text x="50" y="50">342</text></g>
<g id="n341" transform="translate(100 1700)"><use href="#c" class="w"/><text x="50" y="50">341</text></g>
<g id="n340" transform="translate(0 1700)"><use href="#c" class="w"/><text x="50" y="50">340</text></g>

<g id="n379" transform="translate(1900 1800)"><use href="#c" class="w"/><text x="50" y="50">379</text></g>
<g id="n378" transform="translate(1800 1800)"><use href="#c" class="w"/><text x="50" y="50">378</text></g>
<g id="n377" transform="translate(1700 1800)"><use href="#c" class="w"/><text x="50" y="50">377</text></g>
<g id="n376" transform="translate(1600 1800)"><use href="#c" class="w"/><text x="50" y="50">376</text></g>
<g id="n375" transform="translate(1500 1800)"><use href="#c" class="w"/><text x="50" y="50">375</text></g>
<g id="n374" transform="translate(1400 1800)"><use href="#c" class="w"/><text x="50" y="50">374</text></g>
<g id="n373" transform="translate(1300 1800)"><use href="#c" class="w"/><text x="50" y="50">373</text></g>
<g id="n372" transform="translate(1200 1800)"><use href="#c" class="g"/></g>
<g id="n371" transform="translate(1100 1800)"><use href="#c" class="g"/></g>
<g id="n370" transform="translate(1000 1800)"><use href="#c" class="g"/></g>
<g id="n369" transform="translate(900 1800)"><use href="#c" class="g"/></g>
<g id="n368" transform="translate(800 1800)"><use href="#c" class="o"/><text x="50" y="50">368</text></g>
<g id="n367" transform="translate(700 1800)"><use href="#c" class="w"/><text x="50" y="50">367</text></g>
<g id="n366" transform="translate(600 1800)"><use href="#c" class="w"/><text x="50" y="50">366</text></g>
<g id="n365" transform="translate(500 1800)"><use href="#c" class="w"/><text x="50" y="50">365</text></g>
<g id="n364" transform="translate(400 1800)"><use href="#c" class="w"/><text x="50" y="50">364</text></g>
<g id="n363" transform="translate(300 1800)"><use href="#c" class="w"/><text x="50" y="50">363</text></g>
<g id="n362" transform="translate(200 1800)"><use href="#c" class="w"/><text x="50" y="50">362</text></g>
<g id="n361" transform="translate(100 1800)"><use href="#c" class="w"/><text x="50" y="50">361</text></g>
<g id="n360" transform="translate(0 1800)"><use href="#c" class="w"/><text x="50" y="50">360</text></g>

<g id="n398" transform="translate(1800 1900)"><use href="#c" class="w"/><text x="50" y="50">398</text></g>
<g id="n397" transform="translate(1700 1900)"><use href="#c" class="w"/><text x="50" y="50">397</text></g>
<g id="n396" transform="translate(1600 1900)"><use href="#c" class="w"/><text x="50" y="50">396</text></g>
<g id="n395" transform="translate(1500 1900)"><use href="#c" class="w"/><text x="50" y="50">395</text></g>
<g id="n394" transform="translate(1400 1900)"><use href="#c" class="w"/><text x="50" y="50">394</text></g>
<g id="n393" transform="translate(1300 1900)"><use href="#c" class="g"/></g>
<g id="n392" transform="translate(1200 1900)"><use href="#c" class="g"/></g>
<g id="n391" transform="translate(1100 1900)"><use href="#c" class="g"/></g>
<g id="n390" transform="translate(1000 1900)"><use href="#c" class="g"/></g>
<g id="n389" transform="translate(900 1900)"><use href="#c" class="g"/></g>
<g id="n388" transform="translate(800 1900)"><use href="#c" class="g"/></g>
<g id="n387" transform="translate(700 1900)"><use href="#c" class="w"/><text x="50" y="50">387</text></g>
<g id="n386" transform="translate(600 1900)"><use href="#c" class="w"/><text x="50" y="50">386</text></g>
<g id="n385" transform="translate(500 1900)"><use href="#c" class="w"/><text x="50" y="50">385</text></g>
<g id="n384" transform="translate(400 1900)"><use href="#c" class="w"/><text x="50" y="50">384</text></g>
<g id="n383" transform="translate(300 1900)"><use href="#c" class="w"/><text x="50" y="50">383</text></g>
<g id="n382" transform="translate(200 1900)"><use href="#c" class="w"/><text x="50" y="50">382</text></g>
<g id="n381" transform="translate(100 1900)"><use href="#c" class="w"/><text x="50" y="50">381</text></g>
</g>
<g id="connectors" class="e">
<line x1="50" y1="50" x2="1450" y2="50"/><line x1="1750" y1="50" x2="1950" y2="50"/>
<line x1="50" y1="150" x2="1350" y2="150"/><line x1="1850" y1="150" x2="1950" y2="150"/>
<line x1="50" y1="250" x2="250" y2="250"/><line x1="450" y1="250" x2="1250" y2="250"/>
<line x1="50" y1="350" x2="150" y2="350"/><line x1="550" y1="350" x2="1350" y2="350"/><line x1="1850" y1="350" x2="1950" y2="350"/>
<line x1="650" y1="450" x2="750" y2="450"/><line x1="1350" y1="450" x2="1450" y2="450"/><line x1="1750" y1="450" x2="1950" y2="450"/>
<line x1="50" y1="550" x2="150" y2="550"/><line x1="550" y1="550" x2="750" y2="550"/><line x1="1350" y1="550" x2="1950" y2="550"/>
<line x1="50" y1="650" x2="250" y2="650"/><line x1="450" y1="650" x2="750" y2="650"/><line x1="1350" y1="650" x2="1950" y2="650"/>
<line x1="50" y1="750" x2="750" y2="750"/><line x1="1350" y1="750" x2="1950" y2="750"/>
<line x1="50" y1="850" x2="1950" y2="850"/>
<line x1="50" y1="950" x2="450" y2="950"/><line x1="750" y1="950" x2="1950" y2="950"/>
<line x1="50" y1="1050" x2="350" y2="1050"/><line x1="850" y1="1050" x2="1250" y2="1050"/>
<line x1="50" y1="1150" x2="250" y2="1150"/><line x1="950" y1="1150" x2="1250" y2="1150"/>
<line x1="50" y1="1250" x2="150" y2="1250"/><line x1="1050" y1="1250" x2="1250" y2="1250"/><line x1="1550" y1="1250" x2="1950" y2="1250"/>
<line x1="50" y1="1350" x2="250" y2="1350"/><line x1="950" y1="1350" x2="1250" y2="1350"/><line x1="1550" y1="1350" x2="1950" y2="1350"/>
<line x1="50" y1="1450" x2="350" y2="1450"/><line x1="850" y1="1450" x2="1250" y2="1450"/><line x1="1850" y1="1450" x2="1950" y2="1450"/>
<line x1="50" y1="1550" x2="450" y2="1550"/><line x1="750" y1="1550" x2="1250" y2="1550"/><line x1="1850" y1="1550" x2="1950" y2="1550"/>
<line x1="50" y1="1650" x2="1950" y2="1650"/>
<line x1="50" y1="1750" x2="950" y2="1750"/><line x1="1250" y1="1750" x2="1950" y2="1750"/>
<line x1="50" y1="1850" x2="850" y2="1850"/><line x1="1350" y1="1850" x2="1950" y2="1850"/>
<line x1="50" y1="1950" x2="750" y2="1950"/><line x1="1450" y1="1950" x2="1950" y2="1950"/>
<line x1="50" y1="50" x2="50" y2="1950"/>
<line x1="150" y1="50" x2="150" y2="350"/><line x1="150" y1="550" x2="150" y2="1950"/>
<line x1="250" y1="50" x2="250" y2="250"/><line x1="250" y1="650" x2="250" y2="1150"/><line x1="250" y1="1350" x2="250" y2="1950"/>
<line x1="350" y1="50" x2="350" y2="150"/><line x1="350" y1="750" x2="350" y2="1050"/><line x1="350" y1="1450" x2="350" y2="1950"/>
<line x1="450" y1="50" x2="450" y2="250"/><line x1="450" y1="650" x2="450" y2="950"/><line x1="450" y1="1550" x2="450" y2="1950"/>
<line x1="550" y1="50" x2="550" y2="350"/><line x1="550" y1="550" x2="550" y2="850"/><line x1="550" y1="1650" x2="550" y2="1950"/>
<line x1="650" y1="50" x2="650" y2="850"/><line x1="650" y1="1650" x2="650" y2="1950"/>
<line x1="750" y1="50" x2="750" y2="950"/><line x1="750" y1="1550" x2="750" y2="1950"/>
<line x1="850" y1="50" x2="850" y2="350"/><line x1="850" y1="850" x2="850" y2="1050"/><line x1="850" y1="1450" x2="850" y2="1850"/>
<line x1="950" y1="50" x2="950" y2="350"/><line x1="950" y1="850" x2="950" y2="1150"/><line x1="950" y1="1350" x2="950" y2="1750"/>
<line x1="1050" y1="50" x2="1050" y2="350"/><line x1="1050" y1="850" x2="1050" y2="1650"/>
<line x1="1150" y1="50" x2="1150" y2="350"/><line x1="1150" y1="850" x2="1150" y2="1650"/>
<line x1="1250" y1="50" x2="1250" y2="350"/><line x1="1250" y1="850" x2="1250" y2="1750"/>
<line x1="1350" y1="50" x2="1350" y2="150"/><line x1="1350" y1="350" x2="1350" y2="950"/><line x1="1350" y1="1650" x2="1350" y2="1850"/>
<line x1="1450" y1="450" x2="1450" y2="950"/><line x1="1450" y1="1650" x2="1450" y2="1950"/>
<line x1="1550" y1="550" x2="1550" y2="950"/><line x1="1550" y1="1250" x2="1550" y2="1350"/><line x1="1550" y1="1650" x2="1550" y2="1950"/>
<line x1="1650" y1="550" x2="1650" y2="950"/><line x1="1650" y1="1250" x2="1650" y2="1350"/><line x1="1650" y1="1650" x2="1650" y2="1950"/>
<line x1="1750" y1="450" x2="1750" y2="950"/><line x1="1750" y1="1250" x2="1750" y2="1350"/><line x1="1750" y1="1650" x2="1750" y2="1950"/>
<line x1="1850" y1="50" x2="1850" y2="150"/><line x1="1850" y1="350" x2="1850" y2="950"/><line x1="1850" y1="1250" x2="1850" y2="1950"/>
<line x1="1950" y1="50" x2="1950" y2="1950"/>
</g>
<g id="exits">
<g id="n0" transform="translate(0 0)"><use href="#c" class="f"/><text x="40" y="62">F</text></g>
<g id="n19" transform="translate(1900 0)"><use href="#c" class="f"/><text x="40" y="62">F</text></g>
<g id="n70" transform="translate(1000 300)"><use href="#c" class="f"/><text x="40" y="62">F</text></g>
<g id="n200" transform="translate(0 1000)"><text x="50" y="50">200</text><use href="#c" class="f"/><text x="40" y="62">F</text></g>
<g id="n219" transform="translate(1900 1000)"><use href="#c" class="f"/><text x="40" y="62">F</text></g>
<g id="n269" transform="translate(900 1300)"><text x="50" y="50">269</text><use href="#c" class="f"/><text x="40" y="62">F</text></g>
<g id="n380" transform="translate(0 1900)"><text x="50" y="50">380</text><use href="#c" class="f"/><text x="40" y="62">F</text></g>
<g id="n399" transform="translate(1900 1900)"><use href="#c" class="f"/><text x="40" y="62">F</text></g>
</g>
</svg>
